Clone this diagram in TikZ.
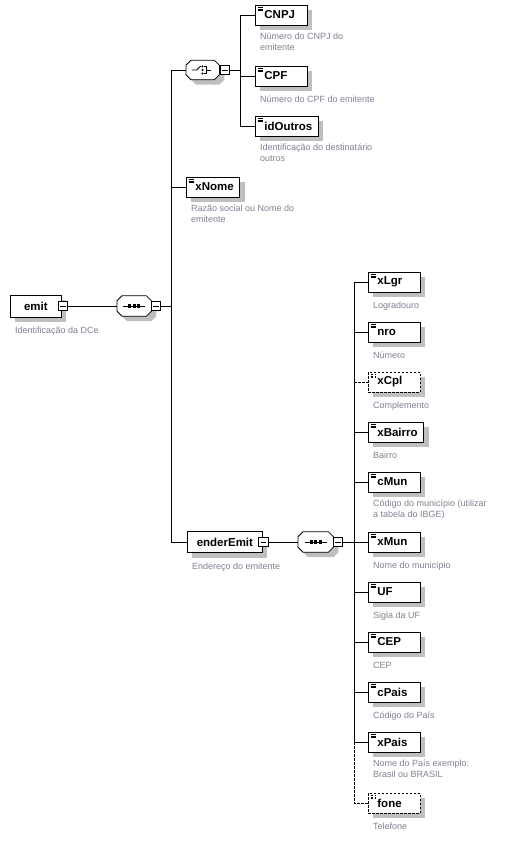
\documentclass[tikz,border=0pt]{standalone}
\usepackage{fontspec}
\setmainfont{Liberation Sans}
\usetikzlibrary{positioning,shadows,backgrounds}

% box text: 9pt in front, at least 52pt wide
\newcommand\elname[1]{\setbox0=\hbox{#1}\dimen0=\wd0 \advance\dimen0 by 15pt
  \ifdim\dimen0<52pt \dimen0=52pt \fi\hbox to \dimen0{\hskip 9pt\box0\hfil}}

\begin{document}
\begin{tikzpicture}[x=1pt, y=-1pt,
    shade/.style={drop shadow={shadow xshift=5pt, shadow yshift=-5pt, fill=black!25, opacity=1}},
    elem/.style={draw, line width=0.8pt, fill=white, shade, anchor=west,
      minimum height=20pt, inner xsep=0pt, inner ysep=0pt,
      font=\bfseries\fontsize{11.5}{12}\selectfont,
      path picture={\foreach \k in {2.3,4,5.7}
        \draw[line width=0.5pt] ([xshift=2.5pt, yshift=-\k pt]path picture bounding box.north west) -- ++(5pt,0pt);}},
    optelem/.style={elem, dash pattern=on 2.5pt off 1.5pt},
    cplx/.style={draw, line width=0.8pt, fill=white, shade, anchor=west,
      minimum height=22pt, font=\bfseries\fontsize{11.5}{12}\selectfont},
    comp/.style={anchor=west, inner sep=0pt, minimum width=34pt, minimum height=20pt},
    octo/.style={line width=0.8pt, fill=white, shade},
    minus/.style={draw, line width=0.8pt, fill=white, minimum size=9.5pt, inner sep=0pt,
      path picture={\draw[line width=0.8pt] ([xshift=-2.8pt]path picture bounding box.center)
        -- ([xshift=2.8pt]path picture bounding box.center);}},
    lbl/.style={text=labelgray, inner sep=0pt, align=left, anchor=north west,
      font=\fontsize{9}{11}\selectfont, execute at begin node={\rule{0pt}{9pt}}},
  ]
  \definecolor{labelgray}{RGB}{128,128,145}
  \useasboundingbox (0,0) rectangle (519,851);

  % trunks
  \coordinate (trunkA) at (171,0);
  \coordinate (trunkB) at (240,0);
  \coordinate (trunkC) at (354,0);

  % root
  \node[cplx, minimum width=51pt] (emit) at (10,306) {emit};
  \node[minus] (emitm) at ([xshift=1pt]emit.east) {};
  \node[lbl, below right=7pt and 5pt of emit.south west] {Identificação da DCe};

  \node[comp] (seq1) at (117,306) {};
  \node[minus, anchor=west] (seq1m) at ([xshift=-0.5pt]seq1.east) {};

  % choice
  \node[comp, minimum width=33pt, minimum height=19pt] (choice) at (186,70) {};
  \node[minus, anchor=west] (choicem) at ([xshift=0.5pt]choice.east) {};

  \node[elem] (cnpj) at (255,15) {\elname{CNPJ}};
  \node[lbl, below right=7pt and 5pt of cnpj.south west] {Número do CNPJ do\\emitente};
  \node[elem] (cpf) at (255,76) {\elname{CPF}};
  \node[lbl, below right=7pt and 5pt of cpf.south west] {Número do CPF do emitente};
  \node[elem] (idoutros) at (255,126) {\elname{idOutros}};
  \node[lbl, below right=7pt and 5pt of idoutros.south west] {Identificação do destinatário\\outros};

  \node[elem] (xnome) at (186,187) {\elname{xNome}};
  \node[lbl, below right=7pt and 5pt of xnome.south west] {Razão social ou Nome do\\emitente};

  % address
  \node[cplx, minimum width=75pt, minimum height=21pt] (ender) at (187,542) {enderEmit};
  \node[minus] (enderm) at ([xshift=0.5pt]ender.east) {};
  \node[lbl, below right=7pt and 5pt of ender.south west] {Endereço do emitente};

  \node[comp, minimum width=35pt] (seq2) at (298,542) {};
  \node[minus, anchor=west] (seq2m) at ([xshift=-0.5pt]seq2.east) {};

  \node[elem] (xlgr) at (368,282) {\elname{xLgr}};
  \node[lbl, below right=7pt and 5pt of xlgr.south west] {Logradouro};
  \node[elem] (nro) at (368,332) {\elname{nro}};
  \node[lbl, below right=7pt and 5pt of nro.south west] {Número};
  \node[optelem] (xcpl) at (368,382) {\elname{xCpl}};
  \node[lbl, below right=7pt and 5pt of xcpl.south west] {Complemento};
  \node[elem] (xbairro) at (368,432) {\elname{xBairro}};
  \node[lbl, below right=7pt and 5pt of xbairro.south west] {Bairro};
  \node[elem] (cmun) at (368,482) {\elname{cMun}};
  \node[lbl, below right=7pt and 5pt of cmun.south west] {Código do município (utilizar\\a tabela do IBGE)};
  \node[elem] (xmun) at (368,542) {\elname{xMun}};
  \node[lbl, below right=7pt and 5pt of xmun.south west] {Nome do município};
  \node[elem] (uf) at (368,592) {\elname{UF}};
  \node[lbl, below right=7pt and 5pt of uf.south west] {Sigla da UF};
  \node[elem] (cep) at (368,642) {\elname{CEP}};
  \node[lbl, below right=7pt and 5pt of cep.south west] {CEP};
  \node[elem] (cpais) at (368,692) {\elname{cPais}};
  \node[lbl, below right=7pt and 5pt of cpais.south west] {Código do País};
  \node[elem] (xpais) at (368,742) {\elname{xPais}};
  \node[lbl, below right=7pt and 5pt of xpais.south west] {Nome do País exemplo:\\Brasil ou BRASIL};
  \node[optelem] (fone) at (368,803) {\elname{fone}};
  \node[lbl, below right=7pt and 5pt of fone.south west] {Telefone};

  % octagons under the compositor nodes
  \begin{scope}[on background layer]
    \foreach \n in {seq1,choice,seq2}
      \draw[octo] ([xshift=5pt]\n.north west) -- ([xshift=-5pt]\n.north east)
        -- ([yshift=-5pt]\n.north east) -- ([yshift=5pt]\n.south east)
        -- ([xshift=-5pt]\n.south east) -- ([xshift=5pt]\n.south west)
        -- ([yshift=5pt]\n.south west) -- ([yshift=-5pt]\n.north west) -- cycle;
  \end{scope}

  % compositor icons
  \begin{scope}[line width=0.8pt]
    \foreach \n in {seq1,seq2} {
      \draw ([xshift=-11pt]\n.center) -- ([xshift=11pt]\n.center);
      \foreach \d in {-4.5,0,4.5}
        \fill ([xshift=\d pt]\n.center) ++(-1.6pt,-1.6pt) rectangle ++(3.2pt,3.2pt);
    }
    \draw ([xshift=-11pt]choice.center) -- ([xshift=-6pt]choice.center)
      -- ([xshift=-2pt, yshift=4pt]choice.center);
    \foreach \d in {-3.5,0,3.5}
      \fill ([xshift=-0.3pt, yshift=\d pt]choice.center) circle[radius=1.1pt];
    \draw ([xshift=1.5pt, yshift=3.5pt]choice.center) -| ([xshift=3.5pt, yshift=-3.5pt]choice.center)
      -- ([xshift=1.5pt, yshift=-3.5pt]choice.center);
    \draw ([xshift=3.5pt]choice.center) -- ([xshift=8pt]choice.center);
  \end{scope}

  % connectors
  \begin{scope}[line width=0.8pt]
    \draw (emitm.east) -- (seq1.west);
    \draw (seq1m.east) -- (seq1m.east -| trunkA);
    \draw (choice.west -| trunkA) -- (ender.west -| trunkA);
    \foreach \n in {choice,xnome,ender}
      \draw (\n.west -| trunkA) -- (\n.west);

    \draw (choicem.east) -- (choicem.east -| trunkB);
    \draw (cnpj.west -| trunkB) -- (idoutros.west -| trunkB);
    \foreach \n in {cnpj,cpf,idoutros}
      \draw (\n.west -| trunkB) -- (\n.west);

    \draw (enderm.east) -- (seq2.west);
    \draw (seq2m.east) -- (seq2m.east -| trunkC);
    \draw (xlgr.west -| trunkC) -- (xpais.west -| trunkC);
    \draw[dash pattern=on 2.5pt off 1.5pt] (xpais.west -| trunkC) -- (fone.west -| trunkC) -- (fone.west);
    \foreach \n in {xlgr,nro,xbairro,cmun,xmun,uf,cep,cpais,xpais}
      \draw (\n.west -| trunkC) -- (\n.west);
    \draw[dash pattern=on 2.5pt off 1.5pt] (xcpl.west -| trunkC) -- (xcpl.west);
  \end{scope}
\end{tikzpicture}
\end{document}
